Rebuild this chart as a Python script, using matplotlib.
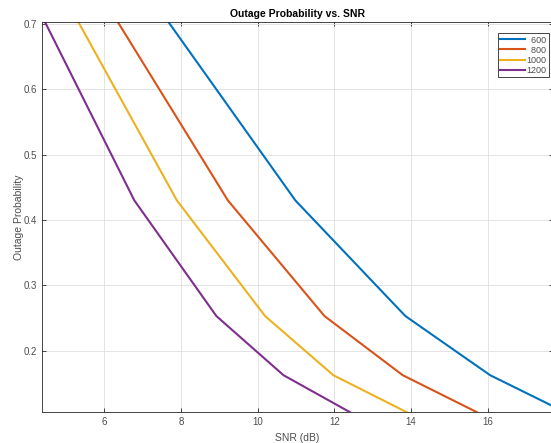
import matplotlib
matplotlib.use("Agg")
import matplotlib.pyplot as plt

plt.rcParams['font.family'] = ['Liberation Sans', 'DejaVu Sans']

# outage probability levels where the curves bend
series_labels = ["600", "800", "1000", "1200"]
snr_600 = [7.67, 10.98, 13.85, 16.06, 17.65]
out_600 = [0.703, 0.430, 0.253, 0.1625, 0.1165]
snr_800 = [6.35, 9.22, 11.74, 13.78, 15.72]
out_800 = [0.703, 0.430, 0.253, 0.1625, 0.1057]
snr_1000 = [5.32, 7.89, 10.19, 11.97, 13.89]
out_1000 = [0.703, 0.430, 0.253, 0.1625, 0.1057]
snr_1200 = [4.45, 6.78, 8.92, 10.67, 12.41]
out_1200 = [0.703, 0.430, 0.253, 0.1625, 0.1057]

colors = ["#0072BD", "#D95319", "#EDB120", "#7E2F8E"]
axis_col = "#262626"
tick_col = "#4d4d4d"

fig = plt.figure(figsize=(5.51, 4.43), dpi=100)
ax = fig.add_axes([0.0768, 0.0693, 0.9268, 0.8804])

for xs, ys, c, lab in zip([snr_600, snr_800, snr_1000, snr_1200],
                          [out_600, out_800, out_1000, out_1200],
                          colors, series_labels):
    # figure space pads the short labels so they line up on the right
    ax.plot(xs, ys, color=c, lw=1.5, label=lab.rjust(4, "\u2007"))

ax.set_xlim(4.38, 17.7)
ax.set_ylim(0.1057, 0.7026)
ax.set_xticks([6, 8, 10, 12, 14, 16])
ax.set_yticks([0.2, 0.3, 0.4, 0.5, 0.6, 0.7])
ax.set_yticklabels(["0.2", "0.3", "0.4", "0.5", "0.6", "0.7"])
ax.grid(True, color="#dfdfdf", lw=0.6)
ax.set_axisbelow(True)
ax.tick_params(axis="both", direction="in", length=3, width=0.6,
               colors=axis_col, labelcolor=tick_col, labelsize=7,
               top=True, right=True)
for s in ax.spines.values():
    s.set_color(axis_col)
    s.set_linewidth(0.6)

ax.set_title("Outage Probability vs. SNR", fontsize=7.5, fontweight="bold",
             color="#000000", pad=4)
ax.set_xlabel("SNR (dB)", fontsize=7.5, color=tick_col, labelpad=4)
ax.set_ylabel("Outage Probability", fontsize=7.5, color=tick_col, labelpad=0)

leg = ax.legend(loc="upper right", bbox_to_anchor=(548.5 / 551, 1 - 33.3 / 443),
                bbox_transform=fig.transFigure, fontsize=6.5,
                fancybox=False, framealpha=1, edgecolor=axis_col,
                handlelength=2.8, handletextpad=0.1, borderpad=0.25,
                labelspacing=0.12, borderaxespad=0)
leg.get_frame().set_linewidth(0.6)
for t in leg.get_texts():
    t.set_color(tick_col)

fig.savefig("out.png", dpi=100)
